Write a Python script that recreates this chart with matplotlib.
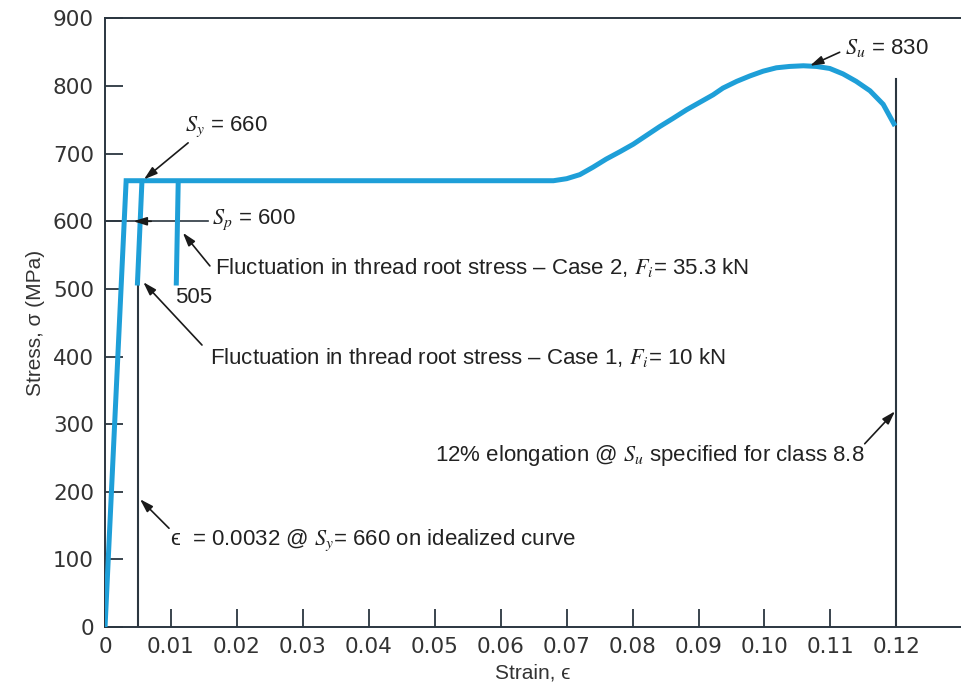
import matplotlib.pyplot as plt

plt.rcParams['font.family'] = ['Liberation Sans', 'DejaVu Sans']
plt.rcParams['mathtext.fontset'] = 'stix'

# idealized stress-strain curve for the bolt material (MPa)
strain = [0, 0.0032, 0.0680, 0.0700, 0.0720, 0.0740, 0.0760, 0.0781, 0.0801,
          0.0821, 0.0841, 0.0861, 0.0882, 0.0902, 0.0922, 0.0937, 0.0958,
          0.0978, 0.0998, 0.1018, 0.1038, 0.1059, 0.1079, 0.1099, 0.1119,
          0.1139, 0.1160, 0.1180, 0.1198]
stress = [0, 660, 660, 663, 669, 680, 692, 703, 714, 727, 740, 752, 765, 776,
          787, 797, 807, 815, 822, 827, 829, 830, 829, 826, 818, 807, 793,
          773, 741]

# fluctuation of the thread root stress
case1_strain = [0.0049, 0.0056]
case1_stress = [505, 660]
case2_strain = [0.0108, 0.0111]
case2_stress = [505, 660]

# reference strains
eps_line = 0.005
eps_line_top = 505
elong_line = 0.12
elong_line_top = 811
sp_value = 600

x_ticks = [0, 0.01, 0.02, 0.03, 0.04, 0.05, 0.06, 0.07, 0.08, 0.09, 0.10, 0.11, 0.12]
x_labels = ['0', '0.01', '0.02', '0.03', '0.04', '0.05', '0.06', '0.07', '0.08',
            '0.09', '0.10', '0.11', '0.12']
y_ticks = [0, 100, 200, 300, 400, 500, 600, 700, 800, 900]

blue = '#1e9fd8'
ink = '#2b3640'

fig = plt.figure(figsize=(9.61, 6.88), dpi=100)
ax = fig.add_axes([0.1093, 0.0887, 0.8907, 0.8845])

ax.plot(strain, stress, color=blue, lw=3.6, solid_joinstyle='miter',
        solid_capstyle='butt', zorder=3)
ax.plot(case1_strain, case1_stress, color=blue, lw=3.6, solid_capstyle='butt', zorder=3)
ax.plot(case2_strain, case2_stress, color=blue, lw=3.6, solid_capstyle='butt', zorder=3)

ax.plot([eps_line, eps_line], [0, eps_line_top], color=ink, lw=1.5, zorder=2)
ax.plot([elong_line, elong_line], [0, elong_line_top], color=ink, lw=1.5, zorder=2)
ax.plot([0, 0.0156], [sp_value, sp_value], color=ink, lw=1.2, zorder=2)

ax.set_xlim(0, 0.1298)
ax.set_ylim(0, 900)
ax.set_xticks(x_ticks)
ax.set_xticklabels(x_labels)
ax.set_yticks(y_ticks)
ax.tick_params(direction='in', length=13, width=1.3, color=ink, labelsize=15.5,
               labelcolor='#333')
ax.tick_params(axis='x', pad=7)
ax.tick_params(axis='y', pad=8)
for lab in ax.get_xticklabels() + ax.get_yticklabels():
    lab.set_family('DejaVu Sans')
ax.spines['right'].set_visible(False)
for s in ['left', 'bottom', 'top']:
    ax.spines[s].set_color(ink)
    ax.spines[s].set_linewidth(1.4)

ax.set_xlabel('Strain, \u03f5', fontsize=15, color='#333', labelpad=5)
ax.set_ylabel('Stress, \u03c3 (MPa)', fontsize=15, color='#333', labelpad=6)

arrow = dict(arrowstyle='-|>,head_length=0.8,head_width=0.25', color='#1a1a1a',
             lw=1.2, shrinkA=0, shrinkB=0)


def pointer(tip, tail):
    ax.annotate('', xy=tip, xytext=tail, arrowprops=arrow, zorder=4)


def label(x, y, s, ha='left'):
    ax.text(x, y, s, fontsize=16, color='#222', va='center', ha=ha)


pointer((0.0059, 662), (0.0126, 716))
label(0.0121, 740, r'$S_y$ = 660')

pointer((0.0043, sp_value), (0.0070, sp_value))
label(0.0162, 602, r'$S_p$ = 600')

pointer((0.0118, 583), (0.0159, 534))
label(0.0167, 531, 'Fluctuation in thread root stress \u2013 Case 2, $F_i$= 35.3 kN')

label(0.0106, 488, '505')

pointer((0.0058, 510), (0.0147, 417))
label(0.0159, 399, 'Fluctuation in thread root stress \u2013 Case 1, $F_i$= 10 kN')

pointer((0.0053, 189), (0.0097, 146))
label(0.0099, 129, '\u03f5  = 0.0032 @ $S_y$= 660 on idealized curve')

pointer((0.1198, 319), (0.1152, 271))
label(0.1152, 254, '12% elongation @ $S_u$ specified for class 8.8', ha='right')

pointer((0.1069, 830), (0.1114, 850))
label(0.1122, 856, r'$S_u$ = 830')

fig.savefig('out.png', dpi=100)
